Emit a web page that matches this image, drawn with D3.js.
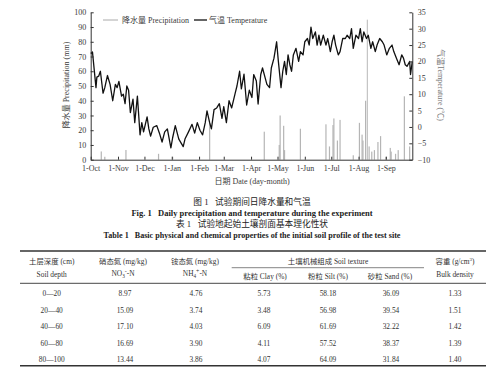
<!DOCTYPE html>
<html><head><meta charset="utf-8">
<script src="https://cdn.jsdelivr.net/npm/d3@7"></script>
<style>
body{margin:0;background:#fff;}
svg{display:block;}
text{white-space:pre;font-family:"Liberation Serif","Noto Sans CJK SC",serif;}
</style></head><body>
<svg id="c" width="500" height="376"></svg>
<script>
// ---------- data ----------
const monthTicks = [0,31,61,92,123,151,182,212,243,273,304,335];
const monthLabels = ["1-Oct","1-Nov","1-Dec","1-Jan","1-Feb","1-Mar","1-Apr","1-May","1-Jun","1-Jul","1-Aug","1-Sep"];
const precipTicks = [0,10,20,30,40,50,60,70,80,90,100];
const tempTicks = [-10,-5,0,5,10,15,20,25,30,35];

const tempDays = [0,2,6,7,9,11,14,16,19,22,25,28,30,32,35,37,39,41,43,45,48,50,53,56,58,60,64,66,68,71,75,78,81,84,87,91,93,96,100,103,105,107,111,115,118,121,124,127,130,132,135,137,140,143,146,149,151,154,157,160,164,166,169,171,174,177,180,183,185,188,190,193,195,198,200,203,205,208,211,213,216,218,220,222,224,226,228,230,233,236,238,241,243,246,248,250,252,255,257,259,261,264,267,269,272,274,276,278,281,283,286,289,291,294,296,298,301,304,306,308,310,313,315,318,320,323,325,328,331,333,336,339,342,344,347,350,353,355,357,359,362,363,365];
const tempValues = [22.4,22.9,12,15.2,15.5,17,10.3,12,15.7,13,8,13,12,13.9,9.4,10,7.1,12.5,11.2,4.4,8.5,1.3,9.4,-2.4,1.3,-1.5,3.1,-0.6,-2.8,-0.1,0.4,-1.9,-4.6,-1.5,-0.6,-6.4,-3.3,0.4,-3.7,-5.1,-6,-3.7,-1.5,0.8,-1.9,1.3,-1,-2.4,1.3,4.9,1.3,-0.6,5.3,5.8,7.1,2.6,6.2,1.3,8,5.8,10.3,12.5,17,11.6,16.1,6.7,11.2,9,16,14,7,16,18,15,13,12,18,21,26,20,12,17,20,16,22,19,17,22,24,20,23,22,26,27,25,30.5,27,29,25,28,25,28,25,27,23,26,28,25,22,23,27,27,28,27,30,24,28,27,30,26,29,27,28,24,26,23,25,27,26,25,22,24,25,23,21,19,22,21,19,18.5,20,16,20];

const precipDays = [12,16,40,77,93,135,197,214,215,219,220,238,267,271,275,276,280,283,298,305,308,309,312,314,316,319,322,326,329,335,340,341,346,349,356,362];
const precipValues = [5.6,2,6.6,4,2,25,19,10,30,23,6.5,21,24,9,23.5,28,13,27,3,25,17,13,40,95,9,5.5,6.5,12,16,2,8,5.5,4,6.5,43,9];

const depths = ["0—20","20—40","40—60","60—80","80—100"];
const no3 = ["8.97","15.09","17.10","16.69","13.44"];
const nh4 = ["4.76","3.74","4.03","3.90","3.86"];
const clay = ["5.73","3.48","6.09","4.11","4.07"];
const silt = ["58.18","56.98","61.69","57.52","64.09"];
const sand = ["36.09","39.54","32.22","38.37","31.84"];
const bulk = ["1.33","1.51","1.42","1.39","1.40"];

// ---------- chart ----------
const svg = d3.select("#c");
const L = 90.7, R = 412.3, T = 12.3, B = 159.7;
const x = d3.scaleLinear().domain([0,365]).range([L,R]);
const yP = d3.scaleLinear().domain([0,100]).range([B,T]);
const yT = d3.scaleLinear().domain([-10,35]).range([B,T]);

const axisColor = "#333", txtColor = "#3a3a3a";

// precipitation bars
svg.append("g").selectAll("rect").data(precipDays).join("rect")
  .attr("x", d => x(d) - 0.6)
  .attr("width", 1.2)
  .attr("y", (d,i) => yP(precipValues[i]))
  .attr("height", (d,i) => B - yP(precipValues[i]))
  .attr("fill", (d,i) => precipValues[i] > 60 ? "#c4c4c4" : "#b5b5b5");

// temperature line
const line = d3.line().x(d => x(d[0])).y(d => yT(d[1]));
svg.append("path")
  .datum(tempDays.map((d,i) => [d, tempValues[i]]))
  .attr("d", line).attr("fill","none").attr("stroke","#111").attr("stroke-width",1.3)
  .attr("stroke-linejoin","round");

function styleAxis(g){
  g.selectAll("path,line").attr("stroke", axisColor);
  g.selectAll("text").attr("fill", txtColor).attr("font-size", 8)
   .style("font-family", '"Liberation Serif",serif');
}
svg.append("g").attr("transform",`translate(${L},0)`)
  .call(d3.axisLeft(yP).tickValues(precipTicks).tickSizeInner(-3).tickSizeOuter(0).tickPadding(4.5))
  .call(styleAxis);
svg.append("g").attr("transform",`translate(${R},0)`)
  .call(d3.axisRight(yT).tickValues(tempTicks).tickSizeInner(-3).tickSizeOuter(0).tickPadding(5.5))
  .call(styleAxis);
svg.append("g").attr("transform",`translate(0,${B})`)
  .call(d3.axisBottom(x).tickValues(monthTicks).tickFormat((d,i)=>monthLabels[i]).tickSizeInner(-3).tickSizeOuter(0).tickPadding(5.5))
  .call(styleAxis);

// axis titles
svg.append("text").attr("transform","translate(68.5,85) rotate(-90)")
  .attr("text-anchor","middle").attr("font-size",8).attr("fill",txtColor)
  .text("降水量 Precipitation (mm)");
svg.append("text").attr("transform","translate(437.5,85) rotate(90)")
  .attr("text-anchor","middle").attr("font-size",8).attr("fill","#777")
  .text("气温Temperature (℃)");
svg.append("text").attr("x",252).attr("y",183.5)
  .attr("text-anchor","middle").attr("font-size",8).attr("fill",txtColor)
  .text("日期 Date (day-month)");

// legend
svg.append("line").attr("x1",103).attr("x2",118).attr("y1",20).attr("y2",20).attr("stroke","#aaa").attr("stroke-width",1);
svg.append("text").attr("x",122).attr("y",23).attr("font-size",8).attr("fill",txtColor).text("降水量 Precipitation");
svg.append("line").attr("x1",194).attr("x2",207).attr("y1",20).attr("y2",20).attr("stroke","#111").attr("stroke-width",1.3);
svg.append("text").attr("x",209).attr("y",23).attr("font-size",8).attr("fill",txtColor).text("气温 Temperature");

// captions
const cap = (t,y,bold,size)=>svg.append("text").attr("x",252).attr("y",y).attr("text-anchor","middle")
  .attr("font-size",size).attr("font-weight",bold?"bold":"normal").attr("fill","#222").text(t);
cap("图 1   试验期间日降水量和气温",205.3,false,8.7);
cap("Fig. 1   Daily precipitation and temperature during the experiment",216.2,true,8.5);
cap("表 1   试验地起始土壤剖面基本理化性状",227.3,false,8.7);
cap("Table 1   Basic physical and chemical properties of the initial soil profile of the test site",238,true,8.1);

// ---------- table ----------
const tg = svg.append("g").attr("fill","#333");
const fs = 7.4;
const rule = (y,w,x1=20,x2=486)=>tg.append("line").attr("x1",x1).attr("x2",x2).attr("y1",y).attr("y2",y).attr("stroke","#333").attr("stroke-width",w);
rule(251,1.4); rule(267.7,0.6,231.7,424); rule(283.3,0.9); rule(365.7,1.4);

const tx = (t,xx,yy)=>tg.append("text").attr("x",xx).attr("y",yy).attr("text-anchor","middle").attr("font-size",fs).text(t);
tx("土层深度 (cm)",51.7,263.6);
tx("硝态氮 (mg/kg)",123,263.6);
tx("铵态氮 (mg/kg)",195,263.6);
tx("土壤机械组成 Soil texture",328,263.6);
tg.append("text").attr("x",455).attr("y",263.6).attr("text-anchor","middle").attr("font-size",fs)
  .call(t=>{t.append("tspan").text("容重 (g/cm");t.append("tspan").attr("font-size",5).attr("dy",-2.5).text("3");t.append("tspan").attr("dy",2.5).text(")");});
tx("Soil depth",51.7,277);
function ion(xx,base,sub,sup){
  tg.append("text").attr("x",xx).attr("y",276).attr("text-anchor","middle").attr("font-size",fs)
    .call(t=>{t.append("tspan").text(base);
      t.append("tspan").attr("font-size",5.2).attr("dy",1.5).text(sub);
      t.append("tspan").attr("font-size",5.8).attr("dy",-4.2).text(sup);
      t.append("tspan").attr("dy",2.7).text("-N");});
}
ion(123,"NO","3","-");
ion(195,"NH","4","+");
tx("Bulk density",455,277);
tx("粘粒 Clay (%)",265,279.4);
tx("粉粒 Silt (%)",328,279.4);
tx("砂粒 Sand (%)",390,279.4);

const rowY = [295.9,312.6,329.3,345.9,361.9];
const cols = [[depths,51.7],[no3,125],[nh4,196],[clay,264],[silt,328],[sand,391],[bulk,455]];
cols.forEach(([arr,cx])=>arr.forEach((v,i)=>tx(v,cx,rowY[i])));
</script>
</body></html>
